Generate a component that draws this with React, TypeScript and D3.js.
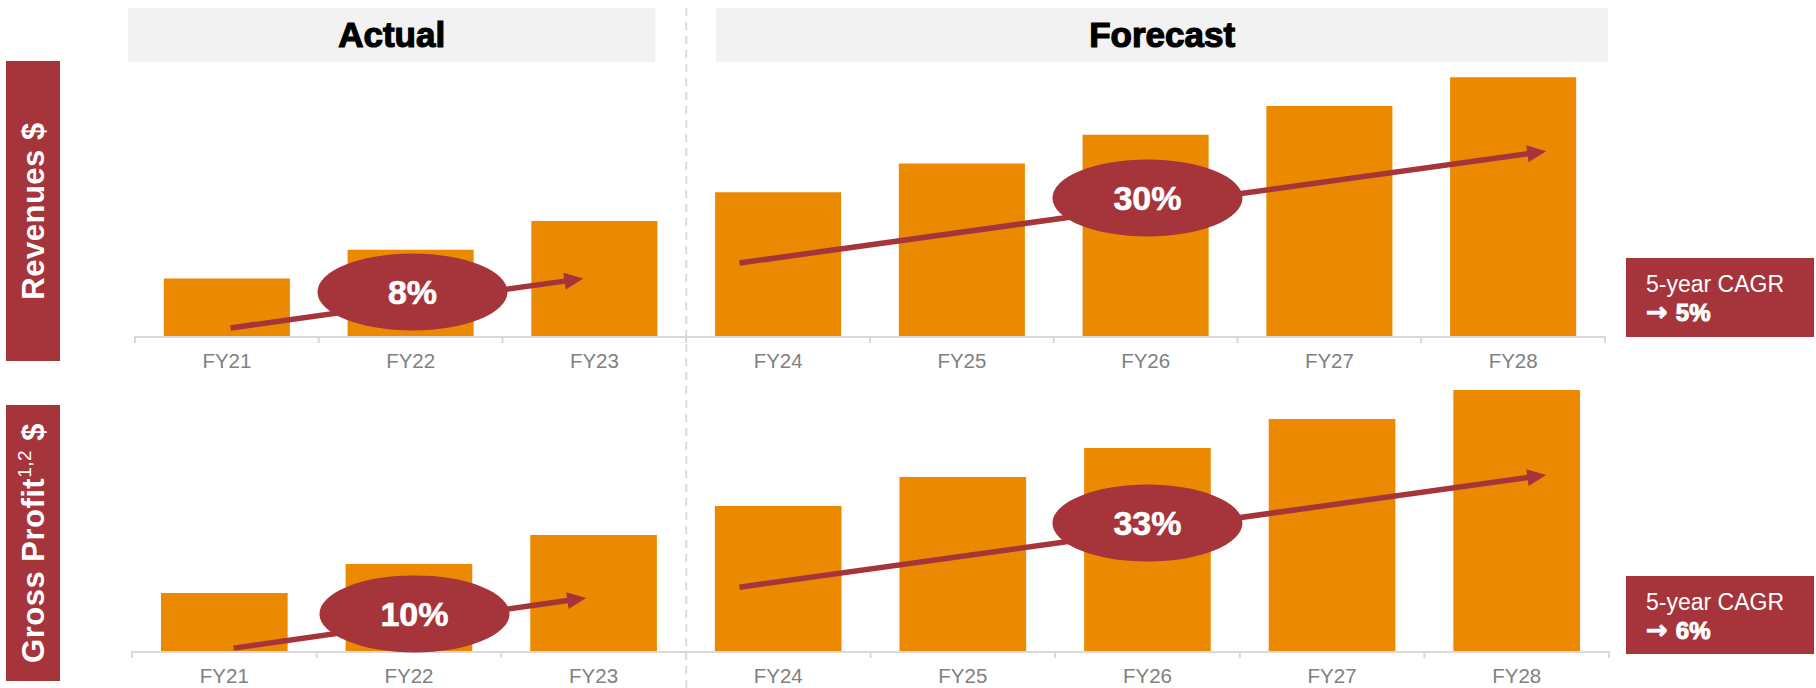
import React from "react";
import * as d3 from "d3";

const categories = ["FY21", "FY22", "FY23", "FY24", "FY25", "FY26", "FY27", "FY28"];
const revenueValues = [2, 3, 4, 5, 6, 7, 8, 9];
const grossProfitValues = [2, 3, 4, 5, 6, 7, 8, 9];
const phaseLabels = ["Actual", "Forecast"];
const revenueGrowthLabels = ["8%", "30%"];
const grossProfitGrowthLabels = ["10%", "33%"];
const cagrValues = ["5%", "6%"];
// trend arrows in (category position, value) space: [fromPos, fromVal, toPos, toVal, bubblePos, bubbleVal]
const revenueTrends = [
  [0.52, 0.28, 2.44, 2.0, 1.51, 1.53],
  [3.29, 2.54, 7.68, 6.43, 5.51, 4.8],
];
const grossProfitTrends = [
  [0.55, 0.1, 2.46, 1.83, 1.53, 1.28],
  [3.29, 2.2, 7.66, 6.07, 5.5, 4.41],
];

const RED = "#a5343b";
const ORANGE = "#eb8a00";
const AXIS = "#d9d9d9";
const FONT = "'Liberation Sans', Arial, sans-serif";

type PanelProps = {
  values: number[];
  trends: number[][];
  growth: string[];
  x0: number;
  x1: number;
  baseline: number;
  unit: number;
};

function Panel({ values, trends, growth, x0, x1, baseline, unit }: PanelProps) {
  const x = d3.scaleBand<string>().domain(categories).range([x0, x1]).paddingInner(0.314).paddingOuter(0.157);
  const y = d3.scaleLinear().domain([0, 10]).range([baseline, baseline - unit * 10]);
  const step = x.step();
  const xAt = (p: number) => x0 + p * step;
  const ticks = d3.range(categories.length + 1);
  return (
    <g>
      {categories.map((c, i) => (
        <rect key={c} x={x(c)} y={y(values[i])} width={x.bandwidth()} height={y(0) - y(values[i])} fill={ORANGE} />
      ))}
      <line x1={x0} x2={x1} y1={baseline + 1} y2={baseline + 1} stroke={AXIS} strokeWidth={2} />
      {ticks.map((t) => (
        <line key={t} x1={xAt(t)} x2={xAt(t)} y1={baseline} y2={baseline + 7} stroke={AXIS} strokeWidth={2} />
      ))}
      {categories.map((c) => (
        <text key={c} x={(x(c) as number) + x.bandwidth() / 2} y={baseline + 32} textAnchor="middle" fontFamily={FONT} fontSize={20.5} fill="#808080">
          {c}
        </text>
      ))}
      {trends.map((t, i) => {
        const sx = xAt(t[0]), sy = y(t[1]), ex = xAt(t[2]), ey = y(t[3]);
        const ang = Math.atan2(ey - sy, ex - sx);
        const len = 19, hw = 8.5;
        const bx = ex - len * Math.cos(ang), by = ey - len * Math.sin(ang);
        const px = -Math.sin(ang), py = Math.cos(ang);
        const head = `${ex},${ey} ${bx + px * hw},${by + py * hw} ${bx - px * hw},${by - py * hw}`;
        return (
          <g key={i}>
            <line x1={sx} y1={sy} x2={bx + 2 * Math.cos(ang)} y2={by + 2 * Math.sin(ang)} stroke={RED} strokeWidth={5.5} />
            <polygon points={head} fill={RED} />
            <ellipse cx={xAt(t[4])} cy={y(t[5])} rx={95} ry={38.5} fill={RED} />
            <text x={xAt(t[4])} y={y(t[5])} dy={12} textAnchor="middle" fontFamily={FONT} fontWeight="bold" fontSize={34} fill="#fff" stroke="#fff" strokeWidth={0.6}>
              {growth[i]}
            </text>
          </g>
        );
      })}
    </g>
  );
}

export default function App() {
  const top = { x0: 135, x1: 1605, baseline: 336, unit: 28.75 };
  const bot = { x0: 132, x1: 1609, baseline: 651, unit: 29 };
  const step = (top.x1 - top.x0) / categories.length;
  const divX = top.x0 + 3 * step;
  const headers = [
    { label: phaseLabels[0], a: top.x0 - 7, b: divX - 31 },
    { label: phaseLabels[1], a: divX + 30, b: top.x1 + 3 },
  ];
  const cagrBoxes = [
    { y: 258, h: 79, v: cagrValues[0] },
    { y: 576, h: 78, v: cagrValues[1] },
  ];
  return (
    <svg width={1816} height={688} style={{ position: "absolute", left: 0, top: 0, background: "#fff" }}>
      <rect width={1816} height={688} fill="#fff" />
      {headers.map((h) => (
        <g key={h.label}>
          <rect x={h.a} y={8} width={h.b - h.a} height={54} fill="#f2f2f2" />
          <text x={(h.a + h.b) / 2} y={47} textAnchor="middle" fontFamily={FONT} fontWeight="bold" fontSize={35} fill="#000" stroke="#000" strokeWidth={1.2}>
            {h.label}
          </text>
        </g>
      ))}
      <line x1={divX} x2={divX} y1={8} y2={688} stroke="#dcdcdc" strokeWidth={2} strokeDasharray="8 6" />

      <rect x={6} y={61} width={54} height={300} fill={RED} />
      <text transform="translate(33,211) rotate(-90)" textAnchor="middle" dominantBaseline="central" fontFamily={FONT} fontWeight="bold" fontSize={31} fill="#fff" letterSpacing={0.5}>
        Revenues $
      </text>
      <rect x={6} y={405} width={54} height={276} fill={RED} />
      <text transform="translate(33,543) rotate(-90)" textAnchor="middle" dominantBaseline="central" fontFamily={FONT} fontSize={31} fill="#fff" letterSpacing={0.5}>
        <tspan fontWeight="bold">Gross Profit</tspan>
        <tspan fontSize={19} dy={-9}>1,2</tspan>
        <tspan fontWeight="bold" dy={9}> $</tspan>
      </text>

      <Panel values={revenueValues} trends={revenueTrends} growth={revenueGrowthLabels} {...top} />
      <Panel values={grossProfitValues} trends={grossProfitTrends} growth={grossProfitGrowthLabels} {...bot} />

      {cagrBoxes.map((c) => (
        <g key={c.y}>
          <rect x={1626} y={c.y} width={188} height={c.h} fill={RED} />
          <text x={1646} y={c.y + 34} fontFamily={FONT} fontSize={23} fill="#fff">5-year CAGR</text>
          <text x={1646} y={c.y + 63} fontFamily={FONT} fontWeight="bold" fontSize={24} fill="#fff">
            <tspan fontFamily="'DejaVu Sans', sans-serif" fontWeight="bold" fontSize={26} stroke="#fff" strokeWidth={0.8}>→</tspan>
            <tspan dx={8} stroke="#fff" strokeWidth={1}>{c.v}</tspan>
          </text>
        </g>
      ))}
    </svg>
  );
}
